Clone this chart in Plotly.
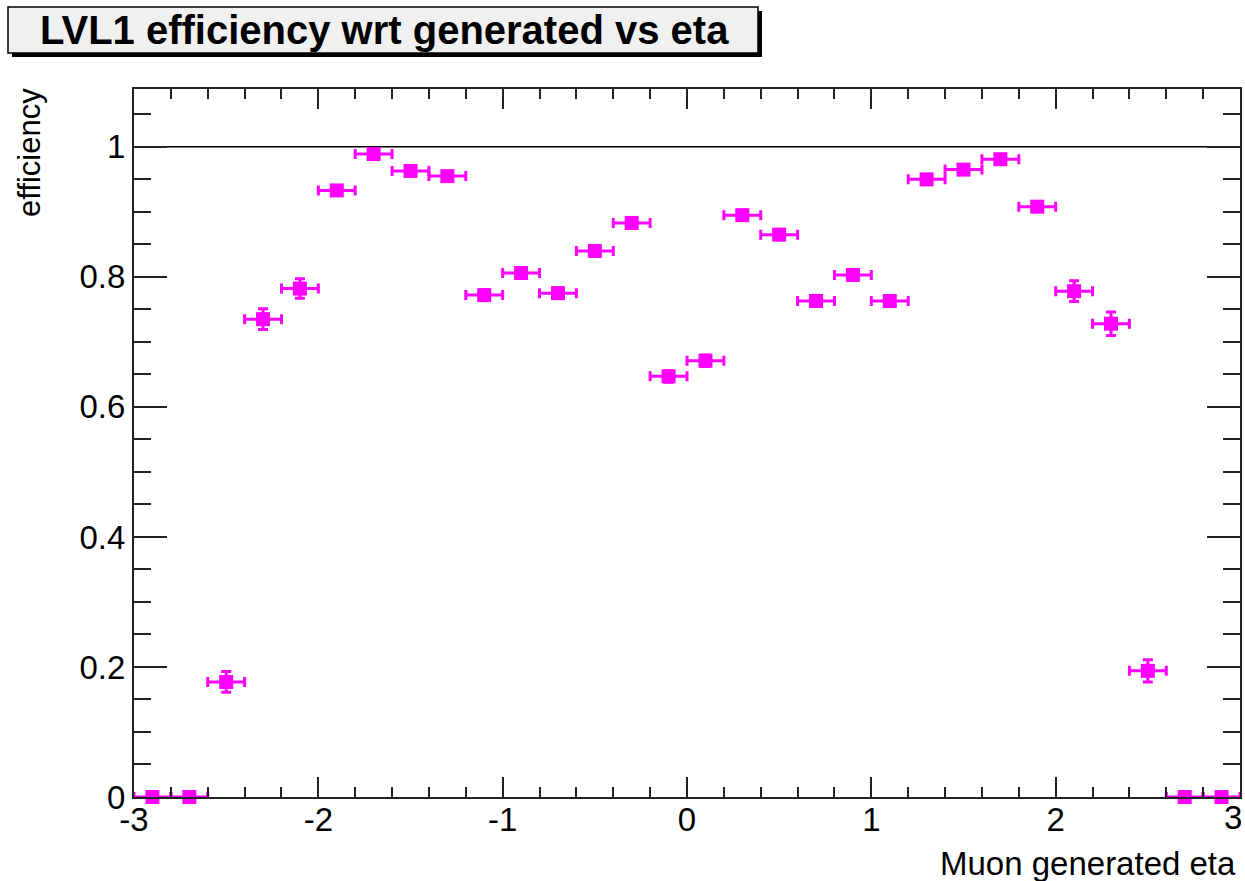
import plotly.graph_objects as go

# ---------------- data ----------------
eta_centers = [-2.9, -2.7, -2.5, -2.3, -2.1, -1.9, -1.7, -1.5, -1.3, -1.1,
               -0.9, -0.7, -0.5, -0.3, -0.1, 0.1, 0.3, 0.5, 0.7, 0.9,
               1.1, 1.3, 1.5, 1.7, 1.9, 2.1, 2.3, 2.5, 2.7, 2.9]
eta_half_width = [0.1] * len(eta_centers)
efficiency = [0.0, 0.0, 0.177, 0.735, 0.782, 0.933, 0.989, 0.963, 0.955, 0.772,
              0.806, 0.775, 0.840, 0.883, 0.647, 0.671, 0.895, 0.865, 0.763, 0.803,
              0.763, 0.950, 0.965, 0.981, 0.908, 0.778, 0.728, 0.194, 0.0, 0.0]
efficiency_err = [0.0, 0.0, 0.016, 0.016, 0.015, 0.007, 0.004, 0.006, 0.006, 0.008,
                  0.008, 0.008, 0.008, 0.007, 0.009, 0.009, 0.007, 0.008, 0.008, 0.008,
                  0.008, 0.006, 0.006, 0.004, 0.007, 0.016, 0.018, 0.017, 0.0, 0.0]

x_tick_vals = [-3, -2, -1, 0, 1, 2, 3]
x_tick_text = ["-3", "-2", "-1", "0", "1", "2", ""]
x_last_tick_text = "3"   # drawn separately so it stays inside the page
y_tick_vals = [0, 0.2, 0.4, 0.6, 0.8, 1.0]
y_tick_text = ["0", "0.2", "0.4", "0.6", "0.8", "1"]
reference_level = 1.0

title_text = "LVL1 efficiency wrt generated vs eta"
x_title = "Muon generated eta"
y_title = "efficiency"

# ---------------- layout geometry ----------------
W, H = 1245, 881
ML, MR, MT, MB = 134, 5, 89, 84
PW, PH = W - ML - MR, H - MT - MB


def px(xp):
    return (xp - ML) / PW


def py(yp):
    return (H - MB - yp) / PH


FONT = "Liberation Sans, Arial, Helvetica, sans-serif"
MAG = "#ff00ff"
AX = "#222222"

fig = go.Figure()
fig.add_trace(go.Scatter(
    x=eta_centers, y=efficiency, mode="markers",
    marker=dict(symbol="square", size=14, color=MAG, line=dict(width=0)),
    error_x=dict(type="data", array=eta_half_width, color=MAG, thickness=3, width=5),
    error_y=dict(type="data", array=efficiency_err, color=MAG, thickness=3, width=5),
    cliponaxis=False, showlegend=False,
))

shapes = [
    dict(type="line", xref="paper", yref="y", x0=0, x1=1, y0=reference_level, y1=reference_level,
         line=dict(color="black", width=1.5), layer="below"),
    dict(type="rect", xref="paper", yref="paper", x0=px(12), x1=px(762), y0=py(57), y1=py(11),
         fillcolor="black", line=dict(width=0), layer="above"),
    dict(type="rect", xref="paper", yref="paper", x0=px(8), x1=px(758), y0=py(53), y1=py(7),
         fillcolor="#f0f0f0", line=dict(color="black", width=1.5), layer="above"),
]

annotations = [
    dict(text="<b>" + title_text + "</b>", xref="paper", yref="paper", x=px(384), y=py(30),
         xanchor="center", yanchor="middle", showarrow=False,
         font=dict(family=FONT, size=40, color="black")),
    dict(text=x_title, xref="paper", yref="paper", x=px(1238), y=py(863),
         xanchor="right", yanchor="middle", showarrow=False,
         font=dict(family=FONT, size=33, color="black")),
    dict(text=y_title, xref="paper", yref="paper", x=px(29), y=py(153),
         xanchor="center", yanchor="middle", textangle=-90, showarrow=False,
         font=dict(family=FONT, size=31, color="black")),
    dict(text=x_last_tick_text, xref="paper", yref="paper", x=px(1244), y=py(817),
         xanchor="right", yanchor="middle", showarrow=False,
         font=dict(family=FONT, size=33, color="black")),
]

fig.update_layout(
    width=W, height=H,
    margin=dict(l=ML, r=MR, t=MT, b=MB, pad=0, autoexpand=False),
    paper_bgcolor="white", plot_bgcolor="white",
    font=dict(family=FONT, size=33, color="black"),
    shapes=shapes, annotations=annotations,
    xaxis=dict(range=[-3, 3], tickvals=x_tick_vals, ticktext=x_tick_text,
               ticks="inside", ticklen=20, tickwidth=2, tickcolor=AX,
               minor=dict(dtick=0.2, ticks="inside", ticklen=10, tickwidth=2, tickcolor=AX),
               showgrid=False, zeroline=False, showline=True, linecolor=AX, linewidth=2,
               mirror="allticks", tickfont=dict(size=33), ticklabelstandoff=-8,
               automargin=False),
    yaxis=dict(range=[0, 1.089], tickvals=y_tick_vals, ticktext=y_tick_text,
               ticks="inside", ticklen=33, tickwidth=2, tickcolor=AX,
               minor=dict(dtick=0.05, ticks="inside", ticklen=17, tickwidth=2, tickcolor=AX),
               showgrid=False, zeroline=True, zerolinecolor="black", zerolinewidth=3,
               showline=True, linecolor=AX, linewidth=2,
               mirror="allticks", tickfont=dict(size=33), automargin=False),
)

fig.write_html("out.html")
